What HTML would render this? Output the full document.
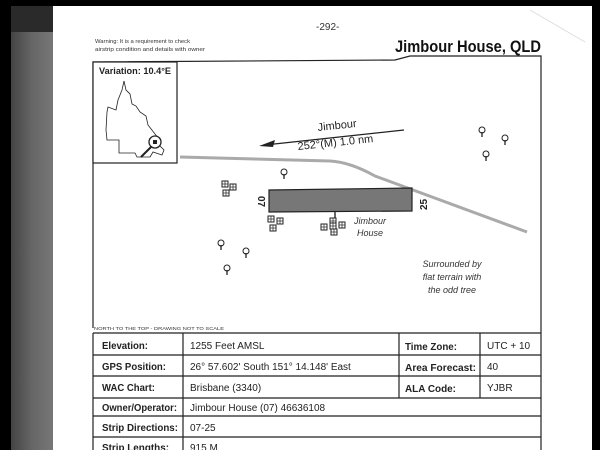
<!DOCTYPE html>
<html><head><meta charset="utf-8"><style>
html,body{margin:0;padding:0;width:600px;height:450px;overflow:hidden;background:#000;}
svg{display:block}
text{font-family:"Liberation Sans",sans-serif;}
.b{font-weight:bold}
</style></head><body>
<svg width="600" height="450" viewBox="0 0 600 450">
<defs>
<linearGradient id="g" x1="0" x2="1"><stop offset="0" stop-color="#444"/><stop offset="0.5" stop-color="#666"/><stop offset="1" stop-color="#777"/></linearGradient>
<g id="t"><circle cx="0" cy="-2" r="3" fill="#fff" stroke="#222" stroke-width="1"/><line x1="0" y1="0" x2="0" y2="5" stroke="#222" stroke-width="1.3"/></g>
<g id="h"><rect x="-3" y="-3" width="6" height="6" fill="#fff" stroke="#222" stroke-width="1"/><line x1="-3" y1="0" x2="3" y2="0" stroke="#222" stroke-width=".7"/><line x1="0" y1="-3" x2="0" y2="3" stroke="#222" stroke-width=".7"/></g>
</defs>
<rect x="0" y="0" width="600" height="450" fill="#000"/>
<rect x="11" y="6" width="581" height="444" fill="#fff"/>
<rect x="11" y="6" width="42" height="444" fill="url(#g)"/>
<rect x="11" y="6" width="42" height="26" fill="#2a2a2a"/>
<line x1="530" y1="10" x2="585" y2="42" stroke="#ddd" stroke-width="1"/>
<text x="316" y="30" font-size="10" fill="#333">-292-</text>
<text x="95" y="43" font-size="5.5" fill="#333" textLength="95" lengthAdjust="spacingAndGlyphs">Warning: It is a requirement to check</text>
<text x="95" y="51" font-size="5.5" fill="#333" textLength="110" lengthAdjust="spacingAndGlyphs">airstrip condition and details with owner</text>
<text x="395" y="52" font-size="17" class="b" fill="#111" textLength="146" lengthAdjust="spacingAndGlyphs">Jimbour House, QLD</text>
<polyline points="93,328 93,62 395,60 410,56 541,56 541,450" fill="none" stroke="#222" stroke-width="1.2"/>
<rect x="93" y="62" width="84" height="101" fill="#fff" stroke="#222" stroke-width="1.2"/>
<text x="99" y="74" font-size="9" class="b" fill="#222" textLength="72" lengthAdjust="spacingAndGlyphs">Variation: 10.4°E</text>
<polyline points="124,81 122,90 118,100 116,110 108,107 107,112 106,130 107,140 119,140 119,153 135,153 137,157 150,157 153,152 162,155 164,150 158,144 160,140 155,134 148,125 146,116 140,112 136,106 132,104 130,94 126,90 124,81" fill="none" stroke="#222" stroke-width=".8"/>
<circle cx="155" cy="142" r="6" fill="#fff" stroke="#222" stroke-width="1.3"/>
<rect x="153" y="140" width="4" height="4" fill="#222"/>
<line x1="151" y1="147" x2="141" y2="157" stroke="#222" stroke-width="2"/>
<path d="M180,157 L330,161 Q350,162 375,176 L527,232" fill="none" stroke="#aaa" stroke-width="3"/>
<text x="318" y="131" font-size="11" fill="#222" transform="rotate(-6 318 131)">Jimbour</text>
<text x="298" y="150" font-size="11" fill="#222" transform="rotate(-6 298 150)">252°(M)  1.0 nm</text>
<line x1="404" y1="130" x2="265" y2="145" stroke="#222" stroke-width="1.2"/>
<polygon points="259,146 275,140 273,147" fill="#222"/>
<polygon points="269,190 412,188 412,211 269,212" fill="#777" stroke="#222" stroke-width="1.2"/>
<line x1="335" y1="212" x2="335" y2="220" stroke="#666" stroke-width="2"/>
<text x="0" y="0" font-size="10" class="b" fill="#222" transform="translate(258,196) rotate(90)">07</text>
<text x="0" y="0" font-size="10" class="b" fill="#222" transform="translate(427,210) rotate(-90)">25</text>
<use href="#h" x="225" y="184"/><use href="#h" x="233" y="187"/><use href="#h" x="226" y="193"/>
<use href="#h" x="271" y="219"/><use href="#h" x="280" y="221"/><use href="#h" x="273" y="228"/>
<use href="#h" x="324" y="227"/><use href="#h" x="333" y="221"/><use href="#h" x="342" y="225"/><use href="#h" x="334" y="232"/><use href="#h" x="333" y="226"/>
<text x="370" y="224" font-size="9" font-style="italic" fill="#333" text-anchor="middle">Jimbour</text>
<text x="370" y="236" font-size="9" font-style="italic" fill="#333" text-anchor="middle">House</text>
<text x="452" y="267" font-size="9" font-style="italic" fill="#333" text-anchor="middle">Surrounded by</text>
<text x="452" y="280" font-size="9" font-style="italic" fill="#333" text-anchor="middle">flat terrain with</text>
<text x="452" y="293" font-size="9" font-style="italic" fill="#333" text-anchor="middle">the odd tree</text>
<use href="#t" x="482" y="132"/><use href="#t" x="505" y="140"/><use href="#t" x="486" y="156"/><use href="#t" x="284" y="174"/>
<use href="#t" x="221" y="245"/><use href="#t" x="246" y="253"/><use href="#t" x="227" y="270"/>
<text x="94" y="330" font-size="4.5" fill="#333" textLength="130" lengthAdjust="spacingAndGlyphs">NORTH TO THE TOP - DRAWING NOT TO SCALE</text>
<g stroke="#222" stroke-width="1.2" fill="none">
<line x1="93" y1="333" x2="541" y2="333"/>
<line x1="93" y1="355" x2="541" y2="355"/>
<line x1="93" y1="376" x2="541" y2="376"/>
<line x1="93" y1="398" x2="541" y2="398"/>
<line x1="93" y1="416" x2="541" y2="416"/>
<line x1="93" y1="437" x2="541" y2="437"/>
<line x1="93" y1="333" x2="93" y2="450"/>
<line x1="183" y1="333" x2="183" y2="450"/>
<line x1="399" y1="333" x2="399" y2="398"/>
<line x1="480" y1="333" x2="480" y2="398"/>
</g>
<g font-size="10.5" fill="#222">
<text x="102" y="349" class="b" textLength="46" lengthAdjust="spacingAndGlyphs">Elevation:</text>
<text x="102" y="370" class="b" textLength="64" lengthAdjust="spacingAndGlyphs">GPS Position:</text>
<text x="102" y="391" class="b" textLength="53" lengthAdjust="spacingAndGlyphs">WAC Chart:</text>
<text x="102" y="411" class="b" textLength="75" lengthAdjust="spacingAndGlyphs">Owner/Operator:</text>
<text x="102" y="431" class="b" textLength="76" lengthAdjust="spacingAndGlyphs">Strip Directions:</text>
<text x="102" y="451" class="b" textLength="67" lengthAdjust="spacingAndGlyphs">Strip Lengths:</text>
</g>
<g font-size="10" fill="#222">
<text x="190" y="349">1255 Feet AMSL</text>
<text x="190" y="370">26° 57.602' South  151° 14.148' East</text>
<text x="190" y="391">Brisbane (3340)</text>
<text x="190" y="411">Jimbour House (07) 46636108</text>
<text x="190" y="431">07-25</text>
<text x="190" y="451">915 M</text>
<text x="487" y="349">UTC + 10</text>
<text x="487" y="370">40</text>
<text x="487" y="391">YJBR</text>
</g>
<g font-size="10.5" fill="#222">
<text x="405" y="350" class="b" textLength="52" lengthAdjust="spacingAndGlyphs">Time Zone:</text>
<text x="405" y="371" class="b" textLength="71" lengthAdjust="spacingAndGlyphs">Area Forecast:</text>
<text x="405" y="392" class="b" textLength="51" lengthAdjust="spacingAndGlyphs">ALA Code:</text>
</g>
</svg>
</body></html>
